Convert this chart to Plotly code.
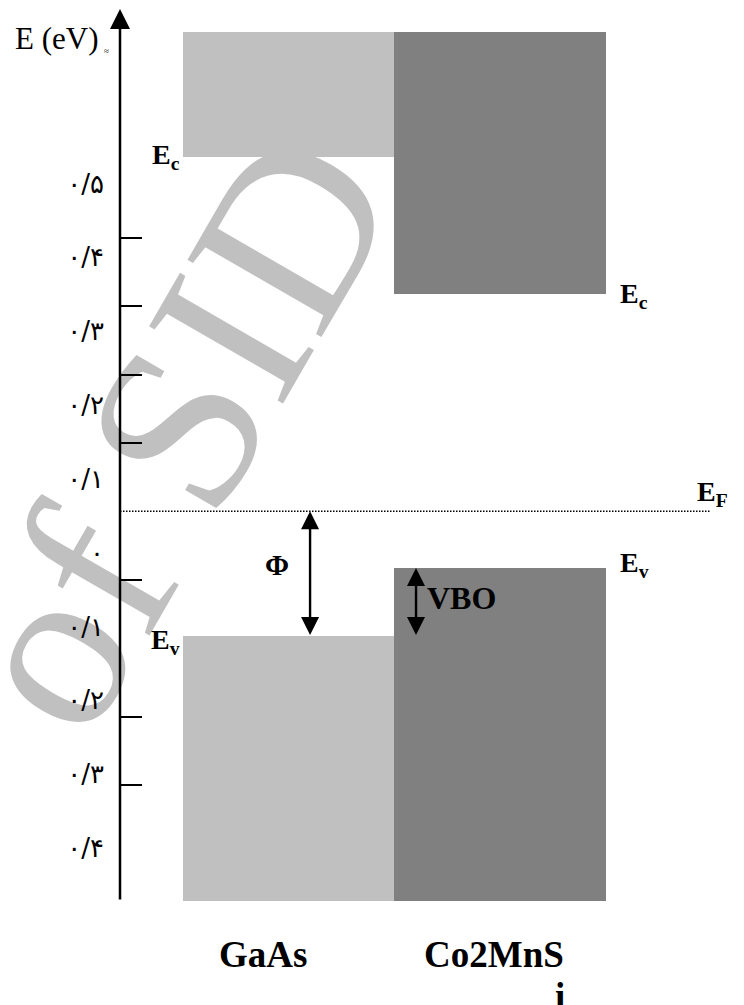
import plotly.graph_objects as go

# ---------------- data ----------------
materials = ["GaAs", "Co2MnSi"]
mat_pos = [0, 1]
cb_top = [0.70, 0.70]          # top of drawn conduction band block (eV)
cb_edge = [0.518, 0.317]       # Ec (eV)
vb_edge = [-0.183, -0.083]     # Ev (eV)
vb_bottom = [-0.57, -0.57]     # bottom of drawn valence band block (eV)
fermi = 0.0                    # EF (eV)
band_colors = ["#c0c0c0", "#808080"]

tick_vals = [0.4, 0.3, 0.2, 0.1, -0.1, -0.3, -0.4]
label_vals = [0.5, 0.4, 0.3, 0.2, 0.1, 0.0, -0.1, -0.2, -0.3, -0.4]
label_text = ["۰/۵", "۰/۴", "۰/۳", "۰/۲", "۰/۱", "۰", "۰/۱", "۰/۲", "۰/۳", "۰/۴"]

# ---------------- layout geometry ----------------
# (the page body adds an 8px margin, so the figure is 8px smaller)
W, H = 736, 997
ML, MR, MT, MB = 112, 0, 0, 104
PW, PH = W - ML - MR, H - MT - MB
x_range = [-0.7967, 2.1537]
y_range = [-0.5697, 0.7358]
y2_range = [-0.4718, 0.7378]
ef_x_end = 1.993
phi_x = 0.102
vbo_x = 0.603


def px(page_x):
    return (page_x - 8 - ML) / PW


def py(page_y):
    return (MT + PH - (page_y - 8)) / PH


SERIF = "Liberation Serif"

fig = go.Figure()

# conduction band blocks
fig.add_trace(go.Bar(
    x=mat_pos, base=cb_edge,
    y=[t - e for t, e in zip(cb_top, cb_edge)],
    width=1, marker=dict(color=band_colors, line=dict(width=0)),
    showlegend=False, hoverinfo="skip"))
# valence band blocks
fig.add_trace(go.Bar(
    x=mat_pos, base=vb_bottom,
    y=[e - b for e, b in zip(vb_edge, vb_bottom)],
    width=1, marker=dict(color=band_colors, line=dict(width=0)),
    showlegend=False, hoverinfo="skip"))
# Fermi level
fig.add_trace(go.Scatter(
    x=[x_range[0], ef_x_end], y=[fermi, fermi], mode="lines",
    line=dict(color="black", width=1.5, dash="1.5px,1.5px"),
    showlegend=False, hoverinfo="skip"))
# invisible trace for secondary axis labels
fig.add_trace(go.Scatter(x=[x_range[0]], y=[0], yaxis="y2", mode="markers",
                         marker=dict(opacity=0), showlegend=False, hoverinfo="skip"))

ann = []
# y axis line with arrowhead
ann.append(dict(xref="paper", x=0, yref="paper", y=1, axref="pixel", ax=0,
                ayref="pixel", ay=PH, text="", showarrow=True, arrowhead=2,
                arrowsize=1.6, arrowwidth=2.5, arrowcolor="black"))
# Phi double arrow
ann.append(dict(xref="x", x=phi_x, yref="y", y=fermi, axref="x", ax=phi_x,
                ayref="y", ay=vb_edge[0], text="", showarrow=True,
                arrowside="end+start", arrowhead=2, startarrowhead=2,
                arrowsize=1.5, startarrowsize=1.5, arrowwidth=2.4, arrowcolor="black"))
# VBO double arrow
ann.append(dict(xref="x", x=vbo_x, yref="y", y=vb_edge[1], axref="x", ax=vbo_x,
                ayref="y", ay=vb_edge[0], text="", showarrow=True,
                arrowside="end+start", arrowhead=2, startarrowhead=2,
                arrowsize=1.5, startarrowsize=1.5, arrowwidth=2.4, arrowcolor="black"))

bold = dict(family=SERIF, size=28, color="black")
big = dict(family=SERIF, size=37, color="black")
ann += [
    dict(xref="paper", x=px(13), xanchor="left", yref="paper",
         y=py(38), yanchor="middle", text="E (eV)", showarrow=False,
         font=dict(family=SERIF, size=31, color="black")),
    dict(xref="paper", x=px(102), xanchor="left", yref="paper",
         y=py(51), yanchor="middle", text="≈", showarrow=False,
         font=dict(family=SERIF, size=9, color="black")),
    dict(xref="x", x=-0.5, xanchor="right", xshift=-1, yref="y", y=cb_edge[0],
         yanchor="middle", yshift=0, text="<b>E<sub>c</sub></b>", showarrow=False, font=bold),
    dict(xref="x", x=1.5, xanchor="left", xshift=12, yref="y", y=cb_edge[1],
         yanchor="middle", yshift=-1, text="<b>E<sub>c</sub></b>", showarrow=False, font=bold),
    dict(xref="x", x=1.922, xanchor="left", yref="y", y=fermi,
         yanchor="middle", yshift=18, text="<b>E<sub>F</sub></b>", showarrow=False, font=bold),
    dict(xref="x", x=1.5, xanchor="left", xshift=12, yref="y", y=vb_edge[1],
         yanchor="middle", yshift=4, text="<b>E<sub>v</sub></b>", showarrow=False, font=bold),
    dict(xref="x", x=-0.5, xanchor="right", xshift=-1, yref="y", y=vb_edge[0],
         yanchor="middle", yshift=-5, text="<b>E<sub>v</sub></b>", showarrow=False, font=bold),
    dict(xref="x", x=phi_x, xanchor="center", xshift=-33, yref="y",
         y=(fermi + vb_edge[0]) / 2, yanchor="middle", yshift=9,
         text="<b>Φ</b>", showarrow=False, font=dict(family=SERIF, size=29, color="black")),
    dict(xref="x", x=vbo_x, xanchor="left", xshift=9, yref="y",
         y=(vb_edge[1] + vb_edge[0]) / 2, yanchor="middle", yshift=4,
         text="<b>VBO</b>", showarrow=False, font=dict(family=SERIF, size=32, color="black")),
    dict(xref="x", x=mat_pos[0], xanchor="center", xshift=-26, yref="paper",
         y=py(954), yanchor="middle", text="<b>GaAs</b>", showarrow=False, font=big),
    dict(xref="x", x=mat_pos[1], xanchor="right", xshift=66, yref="paper",
         y=py(954), yanchor="middle", text="<b>Co2MnS</b>", showarrow=False, font=big),
    dict(xref="x", x=mat_pos[1], xanchor="center", xshift=60, yref="paper",
         y=py(996), yanchor="middle", text="<b>i</b>", showarrow=False, font=big),
]

fig.update_layout(
    width=W, height=H,
    margin=dict(l=ML, r=MR, t=MT, b=MB, pad=0),
    paper_bgcolor="white", plot_bgcolor="white",
    barmode="overlay", bargap=0,
    showlegend=False,
    xaxis=dict(range=x_range, visible=False, fixedrange=True),
    yaxis=dict(range=y_range, showline=False, showgrid=False, zeroline=False,
               tickvals=tick_vals, showticklabels=False, ticks="inside",
               ticklen=22, tickwidth=2, tickcolor="black"),
    yaxis2=dict(range=y2_range, overlaying="y", anchor="x", side="left",
                showline=False, showgrid=False, zeroline=False,
                tickvals=label_vals, ticktext=label_text, ticks="",
                ticklabelstandoff=15,
                tickfont=dict(family="DejaVu Sans", size=26, color="black")),
    annotations=ann,
    shapes=[dict(type="rect", xref="paper", yref="paper",
                 x0=px(149), x1=px(157), y0=py(422), y1=py(414),
                 line=dict(width=0), fillcolor="rgba(0,0,0,0)", layer="below",
                 label=dict(text="of SID", textangle=-60, textposition="middle center",
                            font=dict(family=SERIF, size=236, color="#c0c0c0")))],
)

fig.write_html("out.html")
